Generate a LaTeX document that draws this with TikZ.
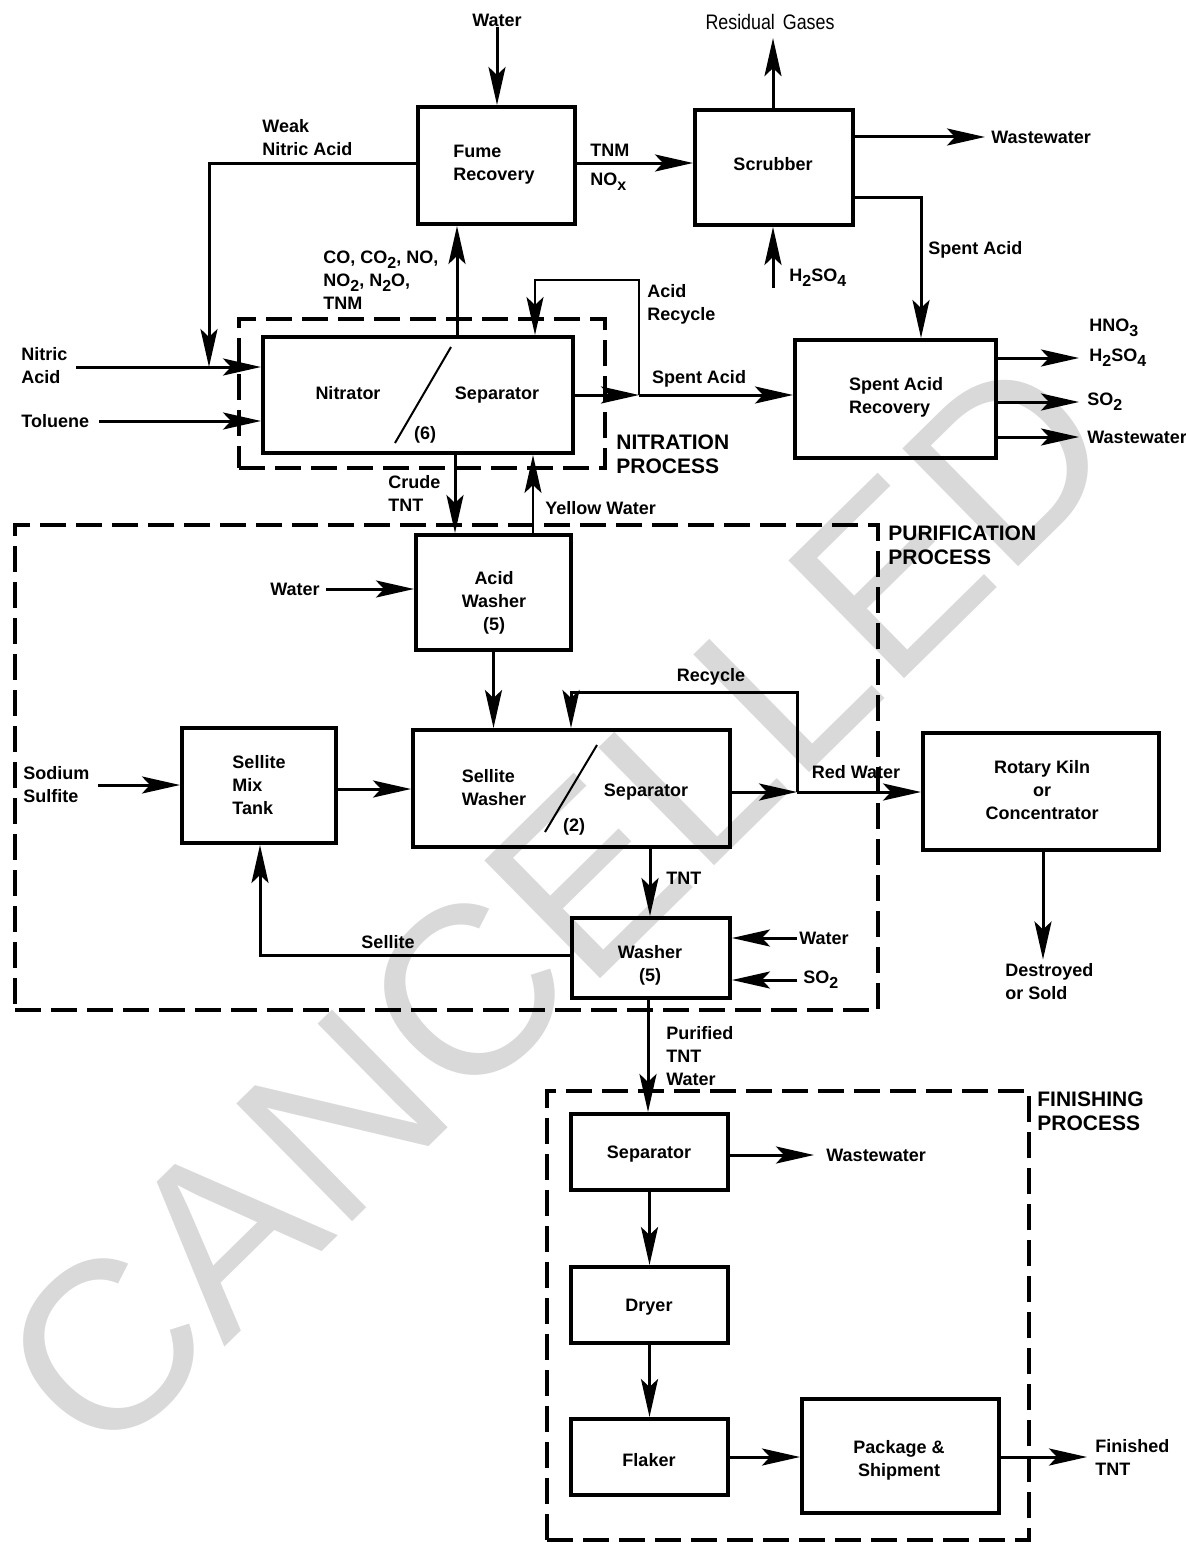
\documentclass[tikz,border=0pt]{standalone}
\usepackage{fontspec}
\setmainfont{Liberation Sans}
\usetikzlibrary{arrows.meta,fit,calc}
\newcommand{\dn}[1]{\raisebox{-0.5ex}{\fontsize{8}{8}\selectfont #1}}
\begin{document}
\begin{tikzpicture}[x=0.5pt,y=-0.5pt,
  font=\fontsize{9}{11.5}\selectfont\bfseries,
  box/.style={draw,line width=2pt,inner sep=0pt,rectangle},
  proc/.style={draw,line width=2pt,dash pattern=on 13pt off 5pt,inner sep=0pt},
  lab/.style={inner sep=0pt,align=left},
  labc/.style={inner sep=0pt,align=center},
  procT/.style={inner sep=0pt,align=left,font=\fontsize{10.5}{12}\selectfont\bfseries},
  flow/.style={line width=1.5pt},
  arr/.style={flow,-{Stealth[length=19pt,width=8.5pt,inset=4pt]}},
  thinl/.style={line width=1pt},
]
\useasboundingbox (0,0) rectangle (1185,1552);
% watermark
\node[rotate=44.5,text=black!15,font=\fontsize{120}{120}\selectfont,inner sep=0pt] (wm) at (557,905) {CANCELLED};

% coordinates
\coordinate (nj) at (209,367);
\coordinate (rj) at (639,395);
\coordinate (arc) at (535,280);
\coordinate (rrj) at (797,792);
\coordinate (rcc) at (571,692);
\coordinate (xg) at (457,0);
\coordinate (xc) at (455,0);
\coordinate (xy) at (533,0);
\coordinate (xr) at (773,0);
\coordinate (xs) at (921,0);
\coordinate (xk) at (1043,0);
\coordinate (xt) at (650,0);
\coordinate (xp) at (648,0);
\coordinate (xsel) at (260,0);
\coordinate (ys1) at (0,163);
\coordinate (ys2) at (0,197);
\coordinate (yms) at (0,789);
\coordinate (ysel) at (0,955);
\coordinate (h2c) at (773,288);

% boxes
\node[box,fit={(418,107) (575,224)}] (fume) {};
\node[lab] (fumeT) at (494,165) {Fume\\Recovery};
\node[box,fit={(695,110) (853,225)}] (scrub) {};
\node[lab] (scrubT) at (773,164) {Scrubber};
\node[box,fit={(263,337) (573,453)}] (nitr) {};
\node[lab] (nitrT) at (348,393) {Nitrator};
\node[lab] (sepT) at (497,395) {Separator};
\node[lab] (sixT) at (425,435) {(6)};
\draw[thinl] (451,347) -- (395,443);
\node[box,fit={(795,340) (996,458)}] (sar) {};
\node[lab] (sarT) at (896,397) {Spent Acid\\Recovery};
\node[box,fit={(416,535) (571,650)}] (aw) {};
\node[labc] (awT) at (494,603) {Acid\\Washer\\(5)};
\node[box,fit={(182,728) (336,843)}] (smt) {};
\node[lab] (smtT) at (259,785) {Sellite\\Mix\\Tank};
\node[box,fit={(413,730) (730,847)}] (sw) {};
\node[lab] (swT) at (494,788) {Sellite\\Washer};
\node[lab] (swsT) at (646,792) {Separator};
\node[lab] (twoT) at (574,827) {(2)};
\draw[thinl] (597,745) -- (545,832);
\node[box,fit={(923,733) (1159,850)}] (kiln) {};
\node[labc] (kilnT) at (1042,790) {Rotary Kiln\\or\\Concentrator};
\node[box,fit={(572,918) (730,998)}] (wash) {};
\node[labc] (washT) at (650,965) {Washer\\(5)};
\node[box,fit={(571,1114) (728,1190)}] (sep2) {};
\node[lab] (sep2T) at (649,1154) {Separator};
\node[box,fit={(571,1267) (728,1343)}] (dry) {};
\node[lab] (dryT) at (649,1307) {Dryer};
\node[box,fit={(571,1419) (728,1495)}] (flak) {};
\node[lab] (flakT) at (649,1460) {Flaker};
\node[box,fit={(802,1399) (999,1513)}] (pkg) {};
\node[labc] (pkgT) at (899,1460) {Package \&\\Shipment};

% process boundaries
\node[proc,fit={(239,319) (605,468)}] (nproc) {};
\node[proc,fit={(15,525) (878,1010)}] (pproc) {};
\node[proc,fit={(547,1091) (1029,1540)}] (fproc) {};

% labels
\node[lab] (wTopT) at (497,20) {Water};
\node[lab,anchor=west] (weakT) at (262,138) {Weak\\Nitric Acid};
\node[lab,anchor=west] (gasT) at (323,280) {CO, CO\dn{2}, NO,\\NO\dn{2}, N\dn{2}O,\\TNM};
\node[lab,anchor=west] (tnmT) at (590,167) {TNM\\[3pt]NO\dn{x}};
\node[lab,font=\fontsize{10.5}{12}\selectfont] (resT) at (770,22) {\scalebox{0.85}[1]{Residual\, Gases}};
\node[lab,anchor=west] (ww1T) at (991,137) {Wastewater};
\node[lab,anchor=west] (sa1T) at (928,250) {Spent Acid};
\node[lab,anchor=west] (h2sT) at (789,278) {H\dn{2}SO\dn{4}};
\node[lab,anchor=west] (arT) at (647,304) {Acid\\Recycle};
\node[lab] (sa2T) at (699,379) {Spent Acid};
\node[lab,anchor=west] (hno3T) at (1089,328) {HNO\dn{3}};
\node[lab,anchor=west] (h2s2T) at (1089,358) {H\dn{2}SO\dn{4}};
\node[lab,anchor=west] (so2aT) at (1087,402) {SO\dn{2}};
\node[lab,anchor=west] (ww2T) at (1087,437) {Wastewater};
\node[procT,anchor=west] (nprocT) at (616,454) {NITRATION\\PROCESS};
\node[lab,anchor=west] (crudeT) at (388,493) {Crude\\TNT};
\node[lab,anchor=west] (yellowT) at (545,508) {Yellow Water};
\node[procT,anchor=west] (pprocT) at (888,545) {PURIFICATION\\PROCESS};
\node[lab,anchor=west] (wawT) at (270,589) {Water};
\node[lab,anchor=west] (ssT) at (23,785) {Sodium\\Sulfite};
\node[lab] (recT) at (711,677) {Recycle};
\node[lab] (redT) at (856,772) {Red Water};
\node[lab,anchor=west] (tntT) at (666,878) {TNT};
\node[lab] (selT) at (388,942) {Sellite};
\node[lab,anchor=west] (wwaT) at (799,938) {Water};
\node[lab,anchor=west] (so2bT) at (803,980) {SO\dn{2}};
\node[lab,anchor=west] (destT) at (1005,982) {Destroyed\\or Sold};
\node[lab,anchor=west] (purT) at (666,1056) {Purified\\TNT\\Water};
\node[procT,anchor=west] (fprocT) at (1037,1111) {FINISHING\\PROCESS};
\node[lab,anchor=west] (ww3T) at (826,1155) {Wastewater};
\node[lab,anchor=west] (finT) at (1095,1457) {Finished\\TNT};
\node[lab,anchor=west] (nitricT) at (21,366) {Nitric\\Acid};
\node[lab,anchor=west] (tolT) at (21,421) {Toluene};

% connectors
\draw[arr] (wTopT.south) -- (wTopT.south |- fume.north);
\draw[arr] (fume.west |- ys1) -| (nj);
\draw[arr] ([xshift=4pt]nitricT.east |- nj) -- (nitr.west |- nj);
\draw[arr] ([xshift=5pt]tolT.east) -- (nitr.west |- tolT.east);
\draw[arr] (nitr.north -| xg) -- (fume.south -| xg);
\draw[arr] (fume.east |- ys1) -- (scrub.west |- ys1);
\draw[arr] (scrub.north -| xr) -- ([yshift=-4pt]resT.south -| xr);
\draw[arr] (scrub.east |- ww1T.west) -- ([xshift=-3pt]ww1T.west);
\draw[arr] (scrub.east |- ys2) -| (sar.north -| xs);
\draw[arr] (h2c) -- (scrub.south -| h2c);
\draw[arr,thinl] (rj) |- (arc) -- (arc |- nitr.north);
\draw[arr] (nitr.east |- rj) -- (rj);
\draw[arr] (rj) -- (sar.west |- rj);
\draw[arr] (sar.east |- h2s2T.west) -- ([xshift=-5pt]h2s2T.west);
\draw[arr] (sar.east |- so2aT.west) -- ([xshift=-4pt]so2aT.west);
\draw[arr] (sar.east |- ww2T.west) -- ([xshift=-4pt]ww2T.west);
\draw[arr] (nitr.south -| xc) -- (aw.north -| xc);
\draw[arr,thinl] (aw.north -| xy) -- (nitr.south -| xy);
\draw[arr] ([xshift=3pt]wawT.east) -- (aw.west |- wawT.east);
\draw[arr] (aw.south) -- (aw.south |- sw.north);
\draw[arr] ([xshift=4pt]ssT.east) -- (smt.west |- ssT.east);
\draw[arr] (smt.east |- yms) -- (sw.west |- yms);
\draw[arr] (rrj) |- (rcc) -- (rcc |- sw.north);
\draw[arr] (sw.east |- rrj) -- (rrj);
\draw[arr] (rrj) -- (kiln.west |- rrj);
\draw[arr] (kiln.south -| xk) -- ([yshift=2pt]destT.north -| xk);
\draw[arr] (sw.south -| xt) -- (wash.north -| xt);
\draw[arr] ([xshift=-1pt]wwaT.west) -- (wash.east |- wwaT.west);
\draw[arr] ([xshift=-3pt]so2bT.west) -- (wash.east |- so2bT.west);
\draw[arr] (wash.west |- ysel) -| (smt.south -| xsel);
\draw[arr] (wash.south -| xp) -- (sep2.north -| xp);
\draw[arr] (sep2.east |- ww3T.west) -- ([xshift=-6pt]ww3T.west);
\draw[arr] (sep2.south) -- (dry.north);
\draw[arr] (dry.south) -- (flak.north);
\draw[arr] (flak.east) -- (pkg.west |- flak.east);
\draw[arr] (pkg.east |- flak.east) -- ([xshift=-4pt]finT.west |- flak.east);
\end{tikzpicture}
\end{document}
